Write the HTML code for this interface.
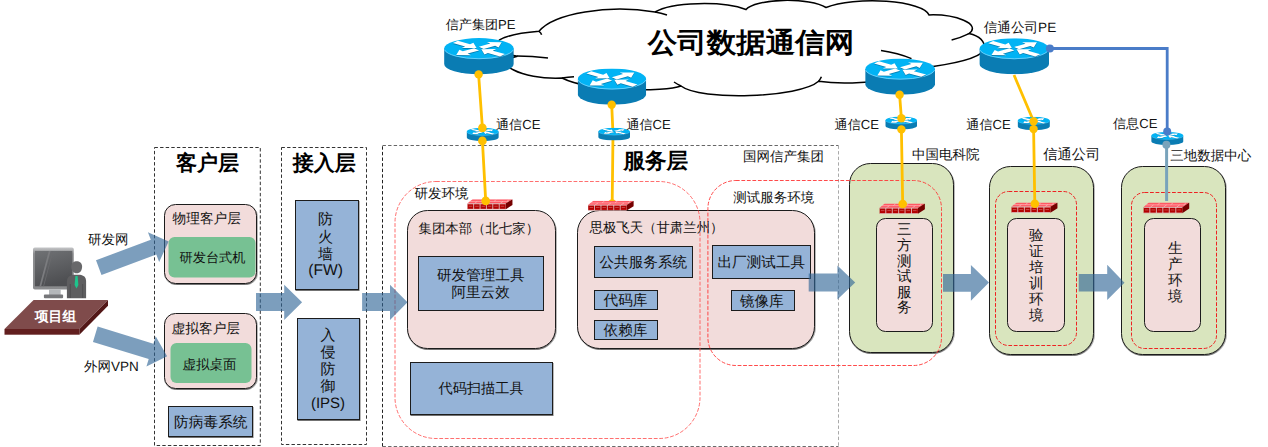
<!DOCTYPE html>
<html><head><meta charset="utf-8">
<style>
html,body{margin:0;padding:0;background:#fff;width:1268px;height:447px;overflow:hidden}
svg{position:absolute;left:0;top:0;font-family:"Liberation Sans",sans-serif;text-rendering:geometricPrecision}
text{font-family:"Liberation Sans",sans-serif;fill:#111}
.lbl{font-size:13.5px}
.bx{font-size:14.6px}
.hd{font-size:21px;font-weight:bold;fill:#000}
</style></head><body>
<svg width="1268" height="447" viewBox="0 0 1268 447">
<defs>
<symbol id="rt" viewBox="0 0 70 36.3" preserveAspectRatio="none">
 <path d="M0,10.5 L0,25.8 A35,10.5 0 0 0 70,25.8 L70,10.5 Z" fill="#0a7cb3"/>
 <ellipse cx="35" cy="10.5" rx="35" ry="10.5" fill="#02b3f4"/>
 <path d="M0.3,11.5 A35,10.5 0 0 0 69.7,11.5" fill="none" stroke="#8fdcff" stroke-width="0.9" opacity="0.8"/>
 <g transform="translate(35,11.3) scale(1,0.36)" fill="#07507a" opacity="0.55">
  <polygon transform="rotate(-38)" points="3,-4 17.5,-4 17.5,-9.5 29,0 17.5,9.5 17.5,4 3,4"/>
  <polygon transform="rotate(142)" points="3,-4 17.5,-4 17.5,-9.5 29,0 17.5,9.5 17.5,4 3,4"/>
  <polygon transform="rotate(-142)" points="30,-4 14.5,-4 14.5,-9.5 3,0 14.5,9.5 14.5,4 30,4"/>
  <polygon transform="rotate(38)" points="30,-4 14.5,-4 14.5,-9.5 3,0 14.5,9.5 14.5,4 30,4"/>
 </g>
 <g transform="translate(35,10.5) scale(1,0.36)" fill="#fff">
  <polygon transform="rotate(-38)" points="3,-4 17.5,-4 17.5,-9.5 29,0 17.5,9.5 17.5,4 3,4"/>
  <polygon transform="rotate(142)" points="3,-4 17.5,-4 17.5,-9.5 29,0 17.5,9.5 17.5,4 3,4"/>
  <polygon transform="rotate(-142)" points="30,-4 14.5,-4 14.5,-9.5 3,0 14.5,9.5 14.5,4 30,4"/>
  <polygon transform="rotate(38)" points="30,-4 14.5,-4 14.5,-9.5 3,0 14.5,9.5 14.5,4 30,4"/>
 </g>
</symbol>
<filter id="sh" x="-5%" y="-5%" width="110%" height="110%"><feDropShadow dx="0.5" dy="1" stdDeviation="0.4" flood-color="#000" flood-opacity="0.55"/></filter>
<symbol id="fw" viewBox="0 0 46 10.6" preserveAspectRatio="none">
 <polygon points="0,4.5 5.3,0 45.6,0 38.6,4.5" fill="#ff5864"/>
 <g stroke="#ffc8c8" stroke-width="0.6">
  <line x1="2.6" y1="2.25" x2="42.1" y2="2.25"/>
  <line x1="7" y1="4.5" x2="10" y2="2.25"/><line x1="14" y1="2.25" x2="16.6" y2="0"/><line x1="20" y1="4.5" x2="23" y2="2.25"/><line x1="27" y1="2.25" x2="29.6" y2="0"/><line x1="33" y1="4.5" x2="36" y2="2.25"/><line x1="40" y1="2.25" x2="42.6" y2="0"/>
 </g>
 <polygon points="38.6,4.5 45.6,0 45.6,5.8 38.6,10.4" fill="#760000"/>
 <rect x="0" y="4.5" width="38.6" height="5.9" fill="#b30000"/>
 <g stroke="#e4d4d4" stroke-width="0.8">
  <line x1="0" y1="4.7" x2="38.6" y2="4.7"/>
  <line x1="6.4" y1="4.5" x2="6.4" y2="10.4"/><line x1="12.9" y1="4.5" x2="12.9" y2="10.4"/><line x1="19.3" y1="4.5" x2="19.3" y2="10.4"/><line x1="25.7" y1="4.5" x2="25.7" y2="10.4"/><line x1="32.2" y1="4.5" x2="32.2" y2="10.4"/>
  <line x1="0" y1="10.3" x2="38.6" y2="10.3"/>
 </g>
 <g stroke="#e8b0b0" stroke-width="0.5" opacity="0.8">
  <line x1="1.5" y1="7.2" x2="5" y2="7.2"/><line x1="8" y1="7.2" x2="11.5" y2="7.2"/><line x1="14.4" y1="7.2" x2="17.9" y2="7.2"/><line x1="20.8" y1="7.2" x2="24.3" y2="7.2"/><line x1="27.2" y1="7.2" x2="30.7" y2="7.2"/><line x1="33.7" y1="7.2" x2="37.2" y2="7.2"/>
 </g>
</symbol>
</defs>

<!-- CLOUD -->
<g id="cloud">
<path d="M517.4,56.2 C488,52 482,36 539,31.3 A84.4,31 0 0 1 655,12 A52.5,14 0 0 1 746,9.5 A42.4,12 0 0 1 826,7.5 A57,16 0 0 1 929,14.9 C955,14 982,24 969,33.6 Q985,37 985,50 Q975,62 920,68 C912,80 850,86 818.6,81.3 C800,98 700,101 681,86 C665,92 590,92 562,78 C520,80 490,62 517.4,56.2 Z" fill="#fff" stroke="#000" stroke-width="1.5"/>
<g fill="none" stroke="#000" stroke-width="1.5">
 <path d="M539,31.3 Q541,32.5 541.6,34.7"/>
 <path d="M517,56 Q532,56 548,58"/>
 <path d="M562,78 Q568,77 574,76.7"/>
 <path d="M655,12 Q661,13 667,15"/>
 <path d="M969,33.6 Q960,38 951.6,40"/>
 <path d="M681,86 Q677,84 674,82"/>
 <path d="M818.6,81.3 Q820.5,79 821.4,76.8"/>
 <path d="M881,50.5 Q898,53 911.5,58.6"/>
</g>
</g>

<!-- DASHED LAYER BOXES -->
<g fill="none" stroke-width="1" stroke-dasharray="3.4 2.2">
 <rect x="154.5" y="147.5" width="105.8" height="298" stroke="#333"/>
 <rect x="281.5" y="147.5" width="85" height="297" stroke="#333"/>
 <path d="M382.5,446.5 L382.5,145.5" stroke="#222"/>
 <path d="M382.5,145.5 L838.5,145.5" stroke="#666"/>
 <path d="M838.5,145.5 L838.5,446.5" stroke="#aaa"/>
 <path d="M382.5,446.5 L838.5,446.5" stroke="#6a6a6a"/>
</g>


<!-- RED DASHED ENV RECTS (drawn later on top) -->

<!-- PINK / GREEN / BLUE BOXES -->
<g stroke="#1a1a1a" stroke-width="1" filter="url(#sh)">
 <!-- client layer -->
 <rect x="164.5" y="204.5" width="92" height="79" rx="11" fill="#f2dcdb"/>
 <rect x="168.5" y="237" width="87" height="40.5" rx="6" fill="#77c193" stroke="none"/>
 <rect x="164.5" y="313.5" width="92" height="75" rx="11" fill="#f2dcdb"/>
 <rect x="170.5" y="343" width="81" height="40" rx="6" fill="#77c193" stroke="none"/>
 <rect x="168.5" y="406.5" width="84" height="30" fill="#95b3d7"/>
 <!-- access layer -->
 <rect x="295.5" y="200.5" width="63" height="89" fill="#95b3d7"/>
 <rect x="297.5" y="318.5" width="62" height="101" fill="#95b3d7"/>
 <!-- service layer -->
 <rect x="407.5" y="210.5" width="148" height="138" rx="20" fill="#f2dcdb"/>
 <rect x="418.5" y="256.5" width="125" height="54" fill="#95b3d7"/>
 <rect x="410.5" y="362.5" width="142" height="52" fill="#95b3d7"/>
 <rect x="577.5" y="210.5" width="237" height="138" rx="22" fill="#f2dcdb"/>
 <rect x="594.5" y="246.5" width="98" height="31" fill="#95b3d7"/>
 <rect x="594.5" y="290.5" width="63" height="19" fill="#95b3d7"/>
 <rect x="594.5" y="320.5" width="63" height="19" fill="#95b3d7"/>
 <rect x="712.5" y="245.5" width="98" height="33" fill="#95b3d7"/>
 <rect x="731.5" y="290.5" width="63" height="20" fill="#95b3d7"/>
 <!-- right green boxes -->
 <rect x="849.5" y="163.5" width="104" height="189" rx="21" fill="#d9e5be"/>
 <rect x="876.5" y="218.5" width="56" height="113" rx="9" fill="#f2dcdb"/>
 <rect x="989.5" y="166.5" width="104" height="188" rx="21" fill="#d9e5be"/>
 <rect x="1007.5" y="218.5" width="57" height="113" rx="9" fill="#f2dcdb"/>
 <rect x="1121.5" y="166.5" width="104" height="188" rx="21" fill="#d9e5be"/>
 <rect x="1144.5" y="218.5" width="56" height="113" rx="9" fill="#f2dcdb"/>
</g>

<!-- RED DASHED ENV RECTS -->
<g fill="none" stroke-dasharray="3.8 1.7">
 <rect x="395" y="181.5" width="305" height="257" rx="41" stroke="#ff4a4a" stroke-width="0.8"/>
 <rect x="707.9" y="180.5" width="233.6" height="185" rx="28" stroke="#ff3535" stroke-width="0.9"/>
 <rect x="995.5" y="191.5" width="81" height="154" rx="13" stroke="#ee2222" stroke-width="1"/>
 <rect x="1131.5" y="192.5" width="85" height="156" rx="13" stroke="#ee2222" stroke-width="1"/>
</g>

<!-- ARROWS -->
<g fill="rgba(48,102,150,0.63)">
 <polygon points="256,293.1 284.2,293.1 284.2,284.8 302.1,302.2 284.2,320 284.2,311 256,311"/>
 <polygon points="362.1,293.1 390,293.1 390,284.8 407.5,302.2 390,320 390,311 362.1,311"/>
 <polygon points="808.7,273.6 837.4,273.6 837.4,265.5 855.2,282.4 837.4,299.6 837.4,291.5 808.7,291.5"/>
 <polygon points="943,273.9 970.9,273.9 970.9,265 989,282.6 970.9,300.7 970.9,291.8 943,291.8"/>
 <polygon points="1078.7,273.9 1107.2,273.9 1107.2,264.8 1124.5,282.7 1107.2,299.9 1107.2,291.4 1078.7,291.4"/>
 <g transform="translate(98.75,267.6) rotate(-20.5)"><polygon points="0,-7.85 58.5,-7.85 58.5,-16 74.6,0 58.5,16 58.5,7.85 0,7.85"/></g>
 <g transform="translate(95.3,334.25) rotate(17)"><polygon points="0,-8 58.3,-8 58.3,-15.8 75.1,0 58.3,15.8 58.3,8 0,8"/></g>
</g>

<!-- LINES -->
<g stroke="#ffc000" stroke-width="2.8" fill="none">
 <polyline points="478.6,74.4 482.4,128 482.4,140.6 485.7,200.9"/>
 <polyline points="611.7,104.7 613,134 612.2,203"/>
 <polyline points="899.6,94.8 901.4,118.2 901.4,129.4 902.7,204"/>
 <polyline points="1014,75 1033.6,121.2 1033.6,129.1 1034.8,203.7"/>
</g>
<polyline points="1049.9,48.5 1167.2,48.5 1167.2,131.6" stroke="#4a7cc8" stroke-width="2.8" fill="none"/>
<line x1="1166.6" y1="144.8" x2="1166.6" y2="201" stroke="#79a3bb" stroke-width="3"/>

<!-- ROUTERS -->
<use href="#rt" x="444.1" y="38.1" width="69.7" height="36.3"/>
<use href="#rt" x="577.7" y="68.5" width="68.5" height="36.2"/>
<use href="#rt" x="865.2" y="58.6" width="69.8" height="36.2"/>
<use href="#rt" x="979.4" y="38.3" width="69.6" height="36"/>
<use href="#rt" x="466.6" y="127.9" width="32.2" height="13.3"/>
<use href="#rt" x="598.2" y="127.8" width="31.8" height="12.8"/>
<use href="#rt" x="885.3" y="116.6" width="31.8" height="13"/>
<use href="#rt" x="1017.6" y="116.8" width="32.3" height="13.3"/>
<use href="#rt" x="1151.2" y="132" width="32.3" height="13"/>

<!-- DOTS -->
<g fill="#ffc000">
 <circle cx="478.6" cy="74.4" r="4.2"/><circle cx="482.4" cy="127.9" r="4.3"/><circle cx="482.4" cy="140.9" r="4.3"/>
 <circle cx="611.7" cy="104.7" r="4.2"/><circle cx="612.2" cy="203.5" r="4.2"/>
 <circle cx="899.6" cy="94.8" r="4.2"/><circle cx="901.4" cy="118.2" r="4.2"/><circle cx="901.4" cy="129.4" r="4.2"/>
 <circle cx="1033.6" cy="121.2" r="4.2"/><circle cx="1033.6" cy="129.1" r="4.2"/>
</g>
<circle cx="1049.9" cy="48.5" r="4" fill="#4a7cc8"/>
<circle cx="1167.2" cy="131.6" r="4" fill="#4a7cc8"/>
<circle cx="1166.4" cy="144.8" r="4" fill="#79a3bb"/>

<!-- FIREWALLS -->
<use href="#fw" x="467.3" y="199.2" width="45.6" height="10.4"/>
<use href="#fw" x="588.1" y="200.8" width="45.9" height="9.9"/>
<use href="#fw" x="879.4" y="203.4" width="45.9" height="10.6"/>
<use href="#fw" x="1011.3" y="202.4" width="46.6" height="10.5"/>
<use href="#fw" x="1143.4" y="202.6" width="46.3" height="10.8"/>
<g fill="#ffc000">
 <circle cx="485.7" cy="200.9" r="4.3"/>
 <circle cx="902.7" cy="204" r="4.3"/>
 <circle cx="1034.8" cy="203.7" r="4.3"/>
</g>


<!-- PROJECT GROUP ICON -->
<g id="pg">
 <linearGradient id="scr" x1="0" y1="0" x2="0.3" y2="1"><stop offset="0" stop-color="#707275"/><stop offset="1" stop-color="#4e4f52"/></linearGradient>
 <linearGradient id="bz" x1="0" y1="0" x2="0" y2="1"><stop offset="0" stop-color="#c4c5c7"/><stop offset="0.15" stop-color="#8e8f91"/><stop offset="1" stop-color="#8a8b8d"/></linearGradient>
 <rect x="33" y="247.6" width="40.8" height="42" rx="1.8" fill="url(#bz)"/>
 <rect x="34.9" y="250.9" width="37.4" height="35.4" fill="url(#scr)"/>
 <polygon points="48.8,250.9 50.6,250.9 41.2,286.3 39.4,286.3" fill="#7b7c7f"/>
 <polygon points="52.5,250.9 53.3,250.9 44,286.3 43.2,286.3" fill="#6a6b6e"/>
 <rect x="49" y="289.5" width="11.7" height="5.5" fill="#b4b7ba"/>
 <rect x="43.9" y="294.5" width="19.2" height="3.7" rx="1" fill="#76777a"/>
 <path d="M71.3,266.5 C71.3,259.5 82.1,259.5 82.1,266.5 C82.1,270.5 80,273.3 76.7,273.3 C73.4,273.3 71.3,270.5 71.3,266.5 Z" fill="#68686a"/>
 <path d="M66.9,298.2 L66.9,281.5 C66.9,277 70,275.3 73.5,274.8 L80,274.8 C83.5,275.3 86.1,277 86.1,281.5 L86.1,298.2 Z" fill="#5e5e60"/>
 <path d="M70.3,284 L70.3,298" stroke="#4a4a4c" stroke-width="0.8"/><path d="M82.7,284 L82.7,298" stroke="#4a4a4c" stroke-width="0.8"/>
 <polygon points="75.4,276 77.6,276 78.4,285 76.5,288.5 74.6,285" fill="#1ec48c"/>
 <!-- platform -->
 <polygon points="33.6,300 108,300 79.4,329 4.5,329" fill="#7f4b4b"/>
 <polygon points="108,300 108,305.7 79.4,334.7 79.4,329" fill="#531717"/>
 <rect x="4.5" y="329" width="74.9" height="5.7" fill="#621f1f"/>
 <text x="55.5" y="321.2" font-size="13.8" font-weight="bold" text-anchor="middle" style="fill:#fff">项目组</text>
</g>

<!-- TEXT -->
<g class="t">
 <text transform="translate(751.1,52.2) scale(1,0.94)" x="0" y="0" font-size="29.5" font-weight="bold" text-anchor="middle" style="fill:#000">公司数据通信网</text>
 <text x="207.6" y="169.6" class="hd" text-anchor="middle">客户层</text>
 <text x="324.2" y="169.6" class="hd" text-anchor="middle">接入层</text>
 <text x="655.8" y="168.1" class="hd" text-anchor="middle" style="font-size:21.6px">服务层</text>
 <text x="783.4" y="161" class="lbl" text-anchor="middle">国网信产集团</text>
 <text x="414.5" y="198" class="lbl">研发环境</text>
 <text x="773.8" y="202" class="lbl" text-anchor="middle">测试服务环境</text>
 <text x="418.5" y="233" font-size="13.4">集团本部（北七家）</text>
 <text x="589.5" y="232" font-size="13.4">思极飞天（甘肃兰州）</text>
 <text x="480.8" y="280.3" class="bx" text-anchor="middle">研发管理工具</text>
 <text x="480.6" y="297.3" class="bx" text-anchor="middle">阿里云效</text>
 <text x="481" y="393.2" class="bx" text-anchor="middle" style="font-size:14.2px">代码扫描工具</text>
 <text x="643.3" y="266.7" class="bx" text-anchor="middle">公共服务系统</text>
 <text x="625.5" y="305" class="bx" text-anchor="middle">代码库</text>
 <text x="625.5" y="335.1" class="bx" text-anchor="middle">依赖库</text>
 <text x="761.3" y="267" class="bx" text-anchor="middle">出厂测试工具</text>
 <text x="761.8" y="305.5" class="bx" text-anchor="middle">镜像库</text>
 <text x="172.5" y="222.6" font-size="13.7">物理客户层</text>
 <text x="212.5" y="261.7" class="lbl" text-anchor="middle" style="font-size:13.2px">研发台式机</text>
 <text x="171.6" y="332.6" font-size="13.7">虚拟客户层</text>
 <text x="209.5" y="369" class="lbl" text-anchor="middle">虚拟桌面</text>
 <text x="210.8" y="426.8" class="bx" text-anchor="middle" style="font-size:14.7px">防病毒系统</text>
 <text x="945.8" y="158.6" font-size="13.5" text-anchor="middle">中国电科院</text>
 <text x="1071.8" y="159" class="lbl" text-anchor="middle" style="font-size:14.3px">信通公司</text>
 <text x="1210.7" y="160.3" class="lbl" text-anchor="middle">三地数据中心</text>
 <text x="496" y="129" font-size="13.1">通信CE</text>
 <text x="626.4" y="129" font-size="13.1">通信CE</text>
 <text x="834.6" y="129" font-size="13.1">通信CE</text>
 <text x="966.3" y="129" font-size="13.1">通信CE</text>
 <text x="1113" y="128.2" font-size="13.1">信息CE</text>
 <text x="445.7" y="29.2" font-size="13.1">信产集团PE</text>
 <text x="983.7" y="31.7" font-size="13.6">信通公司PE</text>
 <text x="108.3" y="244" class="lbl" text-anchor="middle">研发网</text>
 <text x="111.5" y="371" class="lbl" text-anchor="middle">外网VPN</text>
 <g class="bx" text-anchor="middle" style="font-size:15px">
  <text x="325.4" y="224">防</text><text x="325.4" y="241.6">火</text><text x="325.4" y="259">墙</text><text x="325.6" y="275.2" style="font-size:15.6px">(FW)</text>
  <text x="328" y="339.6">入</text><text x="328" y="356.9">侵</text><text x="328" y="374">防</text><text x="328" y="391">御</text><text x="328" y="407.5">(IPS)</text>
  <text x="904.2" y="234.2" style="font-size:14.5px">三</text><text x="904.2" y="249.9" style="font-size:14.5px">方</text><text x="904.2" y="265.5" style="font-size:14.5px">测</text><text x="904.2" y="281.1" style="font-size:14.5px">试</text><text x="904.2" y="296.7" style="font-size:14.5px">服</text><text x="904.2" y="312.3" style="font-size:14.5px">务</text>
  <text x="1036.3" y="240.4" style="font-size:14.5px">验</text><text x="1036.3" y="256.4" style="font-size:14.5px">证</text><text x="1036.3" y="272.4" style="font-size:14.5px">培</text><text x="1036.3" y="288.4" style="font-size:14.5px">训</text><text x="1036.3" y="304.4" style="font-size:14.5px">环</text><text x="1036.3" y="320.4" style="font-size:14.5px">境</text>
  <text x="1175.3" y="253" style="font-size:14.5px">生</text><text x="1175.3" y="269" style="font-size:14.5px">产</text><text x="1175.3" y="285" style="font-size:14.5px">环</text><text x="1175.3" y="301" style="font-size:14.5px">境</text>
 </g>
</g>

</svg>
</body></html>
